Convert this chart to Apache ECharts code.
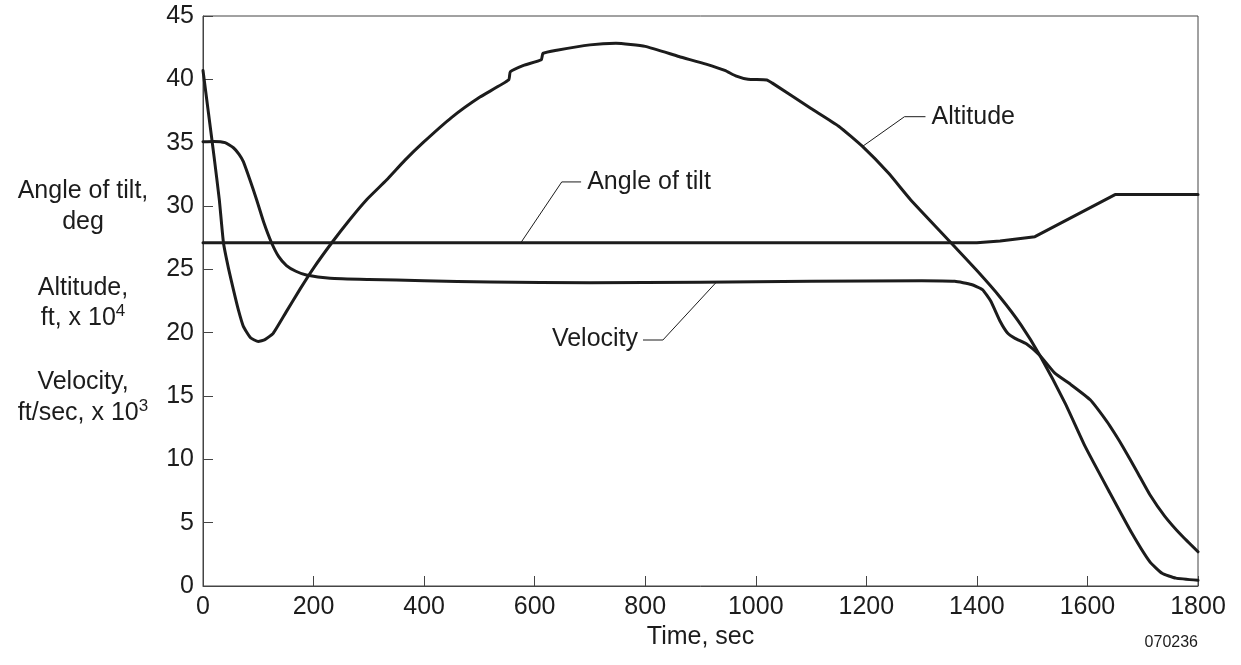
<!DOCTYPE html>
<html>
<head>
<meta charset="utf-8">
<script src="https://cdn.jsdelivr.net/npm/echarts@6/dist/echarts.min.js"></script>
<style>
  html, body { margin: 0; padding: 0; background: #fff; }
  #chart { width: 1241px; height: 665px; }
</style>
</head>
<body>
<div id="chart"></div>
<script>
// Time axis ticks (sec) and value axis ticks
const timeTicks = [0, 200, 400, 600, 800, 1000, 1200, 1400, 1600, 1800];
const valueTicks = [0, 5, 10, 15, 20, 25, 30, 35, 40, 45];

// Altitude, ft x 10^4  — [time sec, value]
const altitude = [
  [0, 40.7], [10, 37.3], [20, 33.9], [29.5, 30.5], [37, 27.1], [46, 25.1], [55, 23.4],
  [64, 21.8], [73, 20.5], [86, 19.6], [100, 19.3], [112, 19.45], [127, 19.95],
  [150, 21.6], [175, 23.4], [200, 25.1], [233, 27.1], [265, 28.9], [296, 30.5],
  [332, 32.05], [365, 33.6], [398, 35.0], [450, 37.0], [501, 38.6], [553, 39.95],
  [556, 40.6], [580, 41.1], [612, 41.55], [615, 42.05], [640, 42.3], [700, 42.72],
  [747, 42.84], [800, 42.6], [861, 41.8], [910, 41.2], [944, 40.7], [965, 40.25],
  [986, 40.0], [1020, 39.95], [1030, 39.7], [1100, 37.7], [1150, 36.3], [1193, 34.7],
  [1240, 32.6], [1280, 30.5], [1351, 27.2], [1400, 24.9], [1442, 22.8], [1480, 20.6],
  [1514, 18.2], [1560, 14.4], [1596, 11.0], [1640, 7.4], [1680, 4.2], [1713, 1.9],
  [1735, 1.0], [1760, 0.62], [1800, 0.45]
];

// Velocity, ft/sec x 10^3 — [time sec, value]
const velocity = [
  [0, 35.08], [20, 35.1], [40, 35.0], [55, 34.6], [65, 34.1], [73, 33.5], [85, 32.05],
  [97, 30.5], [110, 28.7], [124, 27.1], [137, 26.0], [151, 25.3], [168, 24.85],
  [187, 24.55], [230, 24.3], [300, 24.2], [400, 24.1], [520, 24.0], [700, 23.95],
  [900, 23.98], [1100, 24.05], [1300, 24.1], [1360, 24.05], [1390, 23.8], [1410, 23.4],
  [1425, 22.5], [1442, 20.9], [1455, 20.0], [1469, 19.55], [1490, 19.1], [1514, 18.2],
  [1541, 16.8], [1570, 15.9], [1605, 14.7], [1635, 13.0], [1650, 12.0], [1664, 11.0],
  [1690, 9.0], [1713, 7.2], [1740, 5.5], [1770, 4.0], [1800, 2.7]
];

// Angle of tilt, deg — [time sec, value]
const tilt = [
  [0, 27.1], [1400, 27.1], [1442, 27.24], [1505, 27.58], [1650, 30.9], [1800, 30.9]
];

// Callout leaders: point on the curve, elbow, end of the short horizontal stroke
const altitudeLeader = [[1193, 34.7], [1269, 37.05], [1307, 37.05]];
const tiltLeader = [[575, 27.1], [649, 31.9], [684, 31.9]];
const velocityLeader = [[929, 24.0], [832, 19.42], [796, 19.42]];

// Callout captions: text and anchor [time, value]
const callouts = [
  { text: 'Altitude', at: [1318, 37.0], align: 'left' },
  { text: 'Angle of tilt', at: [695, 31.85], align: 'left' },
  { text: 'Velocity', at: [787, 19.5], align: 'right' }
];

const ink = '#1c1c1c';
const axisInk = '#444';
const font = '"Liberation Sans", Arial, Helvetica, sans-serif';
const fs = 25;

function curve(name, data, smooth) {
  return {
    name, type: 'line', data, symbol: 'none', smooth,
    lineStyle: { color: ink, width: 3, join: 'round', cap: 'round' }, silent: true, z: 3
  };
}

function leader(data) {
  return {
    type: 'line', data, symbol: 'none', silent: true,
    lineStyle: { color: ink, width: 1 }, z: 2
  };
}

const chart = echarts.init(document.getElementById('chart'), null, { renderer: 'canvas' });
chart.setOption({
  animation: false,
  backgroundColor: '#fff',
  grid: {
    left: 203, right: 43, top: 16, bottom: 79,
    show: true, borderColor: axisInk, borderWidth: 1
  },
  xAxis: {
    type: 'value', min: timeTicks[0], max: timeTicks[timeTicks.length - 1], interval: 200,
    name: 'Time, sec', nameLocation: 'middle', nameGap: 39,
    nameTextStyle: { color: ink, fontFamily: font, fontSize: fs },
    axisLine: { show: true, lineStyle: { color: axisInk, width: 1 } },
    axisTick: { show: true, inside: true, length: 10, lineStyle: { color: axisInk } },
    axisLabel: { color: ink, fontFamily: font, fontSize: fs, margin: 9, formatter: v => String(v) },
    splitLine: { show: false }
  },
  yAxis: {
    type: 'value', min: valueTicks[0], max: valueTicks[valueTicks.length - 1], interval: 5,
    axisLine: { show: true, lineStyle: { color: axisInk, width: 1 } },
    axisTick: { show: true, inside: true, length: 10, lineStyle: { color: axisInk } },
    axisLabel: { color: ink, fontFamily: font, fontSize: fs, margin: 9, formatter: v => String(v) },
    splitLine: { show: false }
  },
  series: [
    curve('Altitude', altitude, 0.15),
    curve('Velocity', velocity, 0.15),
    curve('Angle of tilt', tilt, false),
    leader(altitudeLeader),
    leader(tiltLeader),
    leader(velocityLeader)
  ]
});

// Value-axis caption block on the left, and the figure number
const plain = (text, x, y, size, align) => ({
  type: 'text', x, y, silent: true,
  style: { text, fill: ink, font: size + 'px ' + font, textAlign: align || 'center', textVerticalAlign: 'middle' }
});
const withSup = (base, sup, x, y) => ({
  type: 'text', x, y, silent: true,
  style: {
    text: '{n|' + base + '}{s|' + sup + '}', textAlign: 'center', textVerticalAlign: 'middle',
    rich: {
      n: { fill: ink, fontFamily: font, fontSize: fs, lineHeight: 30 },
      s: { fill: ink, fontFamily: font, fontSize: 17, lineHeight: 30, verticalAlign: 'top' }
    }
  }
});

const graphics = [
  plain('Angle of tilt,', 83, 191, fs),
  plain('deg', 83, 222, fs),
  plain('Altitude,', 83, 288, fs),
  withSup('ft, x 10', '4', 83, 318),
  plain('Velocity,', 83, 382, fs),
  withSup('ft/sec, x 10', '3', 83, 413),
  plain('070236', 1198, 643, 16, 'right')
];

callouts.forEach(c => {
  const p = chart.convertToPixel({ gridIndex: 0 }, c.at);
  graphics.push(plain(c.text, p[0], p[1], fs, c.align));
});

chart.setOption({ graphic: graphics });
</script>
</body>
</html>
